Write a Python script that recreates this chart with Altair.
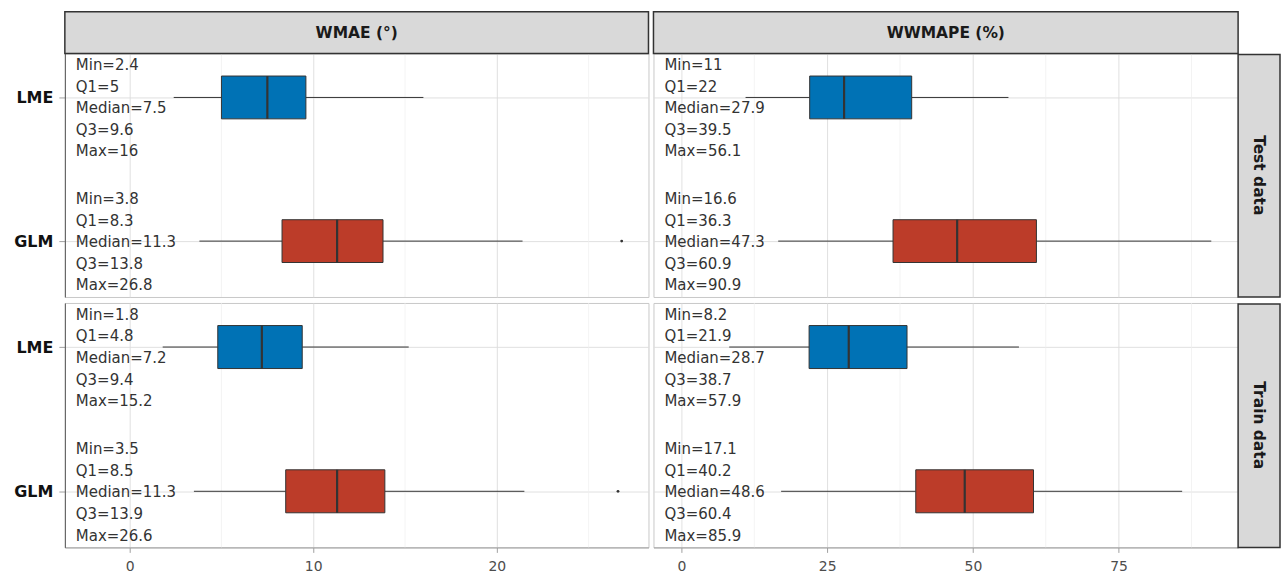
import altair as alt
import pandas as pd

metrics = ["WMAE (°)", "WWMAPE (%)"]
splits = ["Test data", "Train data"]
models = ["LME", "GLM"]
model_colors = ["#0072B5", "#BC3C29"]

# Summary statistics per (metric, split); each pair is [LME, GLM]
panel_keys = [
    ("WMAE (°)", "Test data"),
    ("WMAE (°)", "Train data"),
    ("WWMAPE (%)", "Test data"),
    ("WWMAPE (%)", "Train data"),
]
min_vals = [[2.4, 3.8], [1.8, 3.5], [11, 16.6], [8.2, 17.1]]
q1_vals = [[5, 8.3], [4.8, 8.5], [22, 36.3], [21.9, 40.2]]
median_vals = [[7.5, 11.3], [7.2, 11.3], [27.9, 47.3], [28.7, 48.6]]
q3_vals = [[9.6, 13.8], [9.4, 13.9], [39.5, 60.9], [38.7, 60.4]]
max_vals = [[16, 26.8], [15.2, 26.6], [56.1, 90.9], [57.9, 85.9]]
whisker_hi = [[16, 21.4], [15.2, 21.5], [56.1, 90.9], [57.9, 85.9]]

major_ticks = {"WMAE (°)": [0, 10, 20], "WWMAPE (%)": [0, 25, 50, 75]}
minor_ticks = {"WMAE (°)": [5, 15, 25], "WWMAPE (%)": [12.5, 37.5, 62.5, 87.5]}
x_domains = {"WMAE (°)": [-3.53, 28.26], "WWMAPE (%)": [-4.8, 95.5]}

# Layout
PANEL_W = [585, 586]
PANEL_H = {"Test data": 244, "Train data": 245}
STRIP = 42
Y_DOMAIN = [-0.3056, 1.3889]     # model index 0 (LME) .. 1 (GLM), with margins
BOX_HALF = 0.149
LINE_GAP = 0.15
TEXT_SHIFT = [0.076, 0.007]

INK = "#333333"
GRID_MAJOR = "#dcdcdc"
GRID_MINOR = "#ededed"

stat_rows, text_rows = [], []
for k, (metric, split) in enumerate(panel_keys):
    for j, model in enumerate(models):
        stat_rows.append(dict(
            metric=metric, split=split, model=model, pos=j,
            lo=j - BOX_HALF, hi=j + BOX_HALF,
            vmin=min_vals[k][j], q1=q1_vals[k][j], med=median_vals[k][j],
            q3=q3_vals[k][j], vmax=max_vals[k][j], whi=whisker_hi[k][j],
        ))
        labels = [
            f"Min={min_vals[k][j]:g}", f"Q1={q1_vals[k][j]:g}",
            f"Median={median_vals[k][j]:g}", f"Q3={q3_vals[k][j]:g}",
            f"Max={max_vals[k][j]:g}",
        ]
        for i, lab in enumerate(labels):
            text_rows.append(dict(metric=metric, split=split, label=lab,
                                  ty=j + TEXT_SHIFT[j] + (i - 2) * LINE_GAP))

stats = pd.DataFrame(stat_rows)
texts = pd.DataFrame(text_rows)
one = pd.DataFrame({"k": [0]})


def panel(metric, split):
    col = metrics.index(metric)
    row = splits.index(split)
    w, h = PANEL_W[col], PANEL_H[split]
    sub = stats[(stats.metric == metric) & (stats.split == split)]
    tsub = texts[(texts.metric == metric) & (texts.split == split)]
    outl = sub[sub.vmax > sub.whi]

    xs = alt.Scale(domain=x_domains[metric], nice=False, zero=False)
    ys = alt.Scale(domain=Y_DOMAIN, nice=False, zero=False, reverse=True)
    if row == 1:
        xaxis = alt.Axis(values=major_ticks[metric], title=None, grid=True,
                         gridColor=GRID_MAJOR, gridWidth=0.9,
                         domainColor="#a0a0a0", tickColor="#a0a0a0", tickSize=5,
                         labelFontSize=14, labelColor="#4d4d4d", labelPadding=7)
    else:
        xaxis = alt.Axis(values=major_ticks[metric], title=None, grid=True,
                         gridColor=GRID_MAJOR, gridWidth=0.9,
                         labels=False, ticks=False, domain=False)
    if col == 0:
        yaxis = alt.Axis(values=[0, 1], title=None, grid=True,
                         gridColor=GRID_MAJOR, gridWidth=0.9,
                         labelExpr=f"{models}[datum.value]",
                         labelFontSize=16, labelFontWeight="bold", labelColor="#111111",
                         tickSize=6, tickColor="#a0a0a0", domainColor="#555555",
                         labelPadding=6)
    else:
        yaxis = alt.Axis(values=[0, 1], title=None, grid=True,
                         gridColor=GRID_MAJOR, gridWidth=0.9,
                         labels=False, ticks=False, domain=False)

    def X(f):
        return alt.X(f, type="quantitative", scale=xs, axis=xaxis)

    def Y(f):
        return alt.Y(f, type="quantitative", scale=ys, axis=yaxis)

    base = alt.Chart(sub)
    layers = [
        alt.Chart(pd.DataFrame({"v": minor_ticks[metric]}))
        .mark_rule(color=GRID_MINOR, strokeWidth=0.7)
        .encode(x=X("v")),
        base.mark_rule(color=INK, strokeWidth=1).encode(x=X("vmin"), x2="q1", y=Y("pos")),
        base.mark_rule(color=INK, strokeWidth=1).encode(x=X("q3"), x2="whi", y=Y("pos")),
        base.mark_rect(stroke=INK, strokeWidth=1).encode(
            x=X("q1"), x2="q3", y=Y("lo"), y2="hi",
            color=alt.Color("model:N", scale=alt.Scale(domain=models, range=model_colors),
                            legend=None),
        ),
        base.mark_rule(color=INK, strokeWidth=2.2).encode(x=X("med"), y=Y("lo"), y2="hi"),
    ]
    if len(outl):
        layers.append(alt.Chart(outl).mark_circle(color=INK, size=8, opacity=1)
                      .encode(x=X("vmax"), y=Y("pos")))
    layers.append(
        alt.Chart(tsub).mark_text(align="left", baseline="middle", fontSize=15, color=INK)
        .encode(x=alt.value(11), y=Y("ty"), text="label:N")
    )
    if row == 0:
        layers.append(
            alt.Chart(one).mark_rect(fill="#d9d9d9", stroke=INK, strokeWidth=1.5)
            .encode(x=alt.value(0), x2=alt.value(w), y=alt.value(-STRIP), y2=alt.value(0))
        )
        layers.append(
            alt.Chart(one).mark_text(text=metric, fontSize=15.5, fontWeight="bold",
                                     color="#1a1a1a", baseline="middle", align="center")
            .encode(x=alt.value(w / 2), y=alt.value(-STRIP / 2))
        )
    if col == 1:
        layers.append(
            alt.Chart(one).mark_rect(fill="#d9d9d9", stroke=INK, strokeWidth=1.5)
            .encode(x=alt.value(w), x2=alt.value(w + STRIP), y=alt.value(1), y2=alt.value(h))
        )
        layers.append(
            alt.Chart(one).mark_text(text=split, fontSize=15.5, fontWeight="bold",
                                     color="#1a1a1a", baseline="middle", align="center",
                                     angle=90)
            .encode(x=alt.value(w + STRIP / 2), y=alt.value(h / 2))
        )
    return alt.layer(*layers).properties(width=w, height=h)


chart = (
    alt.vconcat(
        alt.hconcat(panel(metrics[0], splits[0]), panel(metrics[1], splits[0]),
                    spacing=5, bounds="flush"),
        alt.hconcat(panel(metrics[0], splits[1]), panel(metrics[1], splits[1]),
                    spacing=5, bounds="flush"),
        spacing=3,
    )
    .properties(padding={"left": 13, "top": 9, "right": 0, "bottom": 0})
    .configure(font="DejaVu Sans")
    .configure_view(stroke="#c8c8c8", strokeWidth=1)
)

chart.save("out.html", embed_options={"renderer": "svg", "actions": False})
